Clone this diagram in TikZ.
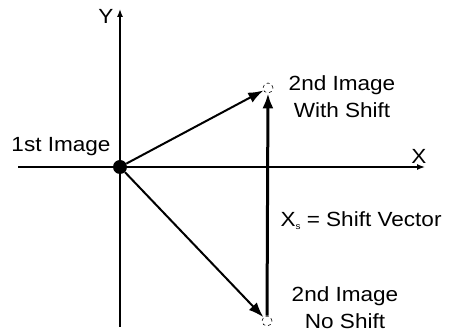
\documentclass[tikz,border=0pt]{standalone}
\usepackage{fontspec}
\setmainfont{Liberation Sans}[FakeStretch=1.1]
\usepackage{tikz}
\usetikzlibrary{positioning,arrows.meta,calc}

\begin{document}
\begin{tikzpicture}[x=1pt,y=-1pt,every node/.style={font=\fontsize{20.5}{27}\selectfont,inner sep=0pt},
  vec/.style={-{Latex[length=15pt,width=11pt]},line width=2pt},
  axis/.style={-{Latex[length=8pt,width=6pt]},line width=1.4pt},
  ghost/.style={draw,dashed,circle,minimum size=10pt,line width=0.6pt}]
\useasboundingbox (0,0) rectangle (455,336);
% axes
\coordinate (xl) at (18,167);
\coordinate (xr) at (425,167);
\coordinate (yb) at (120,327);
\coordinate (yt) at (120,9);
\draw[axis] (xl) -- (xr);
\draw[axis] (yb) -- (yt);
\node (X) at (419,156) {X};
\node (Y) at (106,16) {Y};
% image positions
\node[circle,fill,minimum size=14pt] (O) at (120,167) {};
\node[ghost] (S) at (268,88) {};
\node[ghost] (N) at (267,321) {};
\draw[vec] (O) -- (S);
\draw[vec] (O) -- (N);
\draw[vec,line width=3pt] (N) -- (S);
% labels
\node (first) at (61,147) {1st Image};
\node[align=center] (withshift) at (342,97) {2nd Image\\With Shift};
\node[align=center] (noshift) at (345,308) {2nd Image\\No Shift};
\node (shiftvec) at (361,221) {X\raisebox{-3pt}{\fontsize{9}{9}\selectfont s} = Shift Vector};
\end{tikzpicture}
\end{document}
